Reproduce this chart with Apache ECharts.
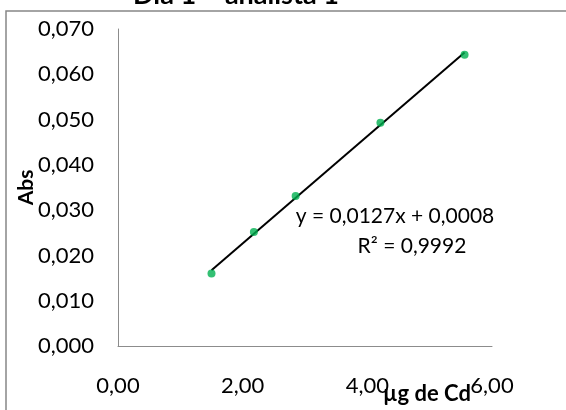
<!DOCTYPE html>
<html>
<head>
<meta charset="utf-8">
<script src="https://cdn.jsdelivr.net/npm/echarts@6/dist/echarts.min.js"></script>
<style>html,body{margin:0;padding:0;background:#fff;}#c{width:566px;height:410px;}</style>
</head>
<body>
<div id="c"></div>
<script>
var titleText = 'Dia 1 – analista 1';
var xName = 'µg de Cd';
var yName = 'Abs';
var xValues = [1.50, 2.18, 2.85, 4.21, 5.56];
var yValues = [0.0160, 0.0252, 0.0331, 0.0493, 0.0643];
var equationText = 'y = 0,0127x + 0,0008';
var r2Text = 'R² = 0,9992';

var pts = xValues.map(function (x, i) { return [x, yValues[i]]; });
// least-squares trendline through the plotted points
var n = xValues.length, sx = 0, sy = 0, sxx = 0, sxy = 0;
for (var i = 0; i < n; i++) { sx += xValues[i]; sy += yValues[i]; sxx += xValues[i] * xValues[i]; sxy += xValues[i] * yValues[i]; }
var slope = (n * sxy - sx * sy) / (n * sxx - sx * sx);
var icpt = (sy - slope * sx) / n;
var xMin = Math.min.apply(null, xValues), xMax = Math.max.apply(null, xValues);
var trend = [[xMin, slope * xMin + icpt], [xMax, slope * xMax + icpt]];

var FONT = 'Lato';
var chart = echarts.init(document.getElementById('c'), null, { renderer: 'canvas' });
chart.setOption({
  animation: false,
  backgroundColor: '#fff',
  grid: { left: 118, top: 29, right: 74, bottom: 63 },
  xAxis: {
    type: 'value', min: 0, max: 6, interval: 2,
    name: xName, nameLocation: 'middle', nameGap: 37, nameMoveOverlap: false,
    nameTextStyle: { fontFamily: FONT, fontWeight: 'bold', fontSize: 22, color: '#000', padding: [0, 0, 0, 244] },
    axisLine: { show: true, lineStyle: { color: '#8c8c8c', width: 1 } },
    axisTick: { show: false },
    splitLine: { show: false },
    axisLabel: { fontFamily: FONT, fontSize: 22, color: '#000', margin: 29,
      formatter: function (v) { return v.toFixed(2).replace('.', ','); } }
  },
  yAxis: {
    type: 'value', min: 0, max: 0.07, interval: 0.01,
    name: yName, nameLocation: 'middle', nameGap: 81, nameRotate: 90, nameMoveOverlap: false,
    nameTextStyle: { fontFamily: FONT, fontWeight: 'bold', fontSize: 21, color: '#000' },
    axisLine: { show: true, lineStyle: { color: '#8c8c8c', width: 1 } },
    axisTick: { show: false },
    splitLine: { show: false },
    axisLabel: { fontFamily: FONT, fontSize: 22, color: '#000', margin: 24,
      formatter: function (v) { return v.toFixed(3).replace('.', ','); } }
  },
  series: [
    { type: 'line', data: trend, symbol: 'none', silent: true, z: 2,
      lineStyle: { color: '#000', width: 2 } },
    { type: 'scatter', data: pts, symbol: 'circle', symbolSize: 8, z: 3,
      itemStyle: { color: '#00B050' } }
  ],
  graphic: [
    { type: 'rect', shape: { x: 6, y: 11, width: 600, height: 450 }, silent: true, z: -1,
      style: { fill: null, stroke: '#878787', lineWidth: 1.5 } },
    { type: 'text', x: 236, y: 9, silent: true,
      style: { text: titleText, fontFamily: FONT, fontWeight: 'bold', fontSize: 27, fill: '#000', align: 'center', verticalAlign: 'bottom' } },
    { type: 'text', x: 395, y: 216, silent: true,
      style: { text: equationText, fontFamily: FONT, fontSize: 21, fill: '#000', align: 'center', verticalAlign: 'middle' } },
    { type: 'text', x: 412, y: 246, silent: true,
      style: { text: r2Text, fontFamily: FONT, fontSize: 21, fill: '#000', align: 'center', verticalAlign: 'middle' } }
  ]
});
</script>
</body>
</html>
